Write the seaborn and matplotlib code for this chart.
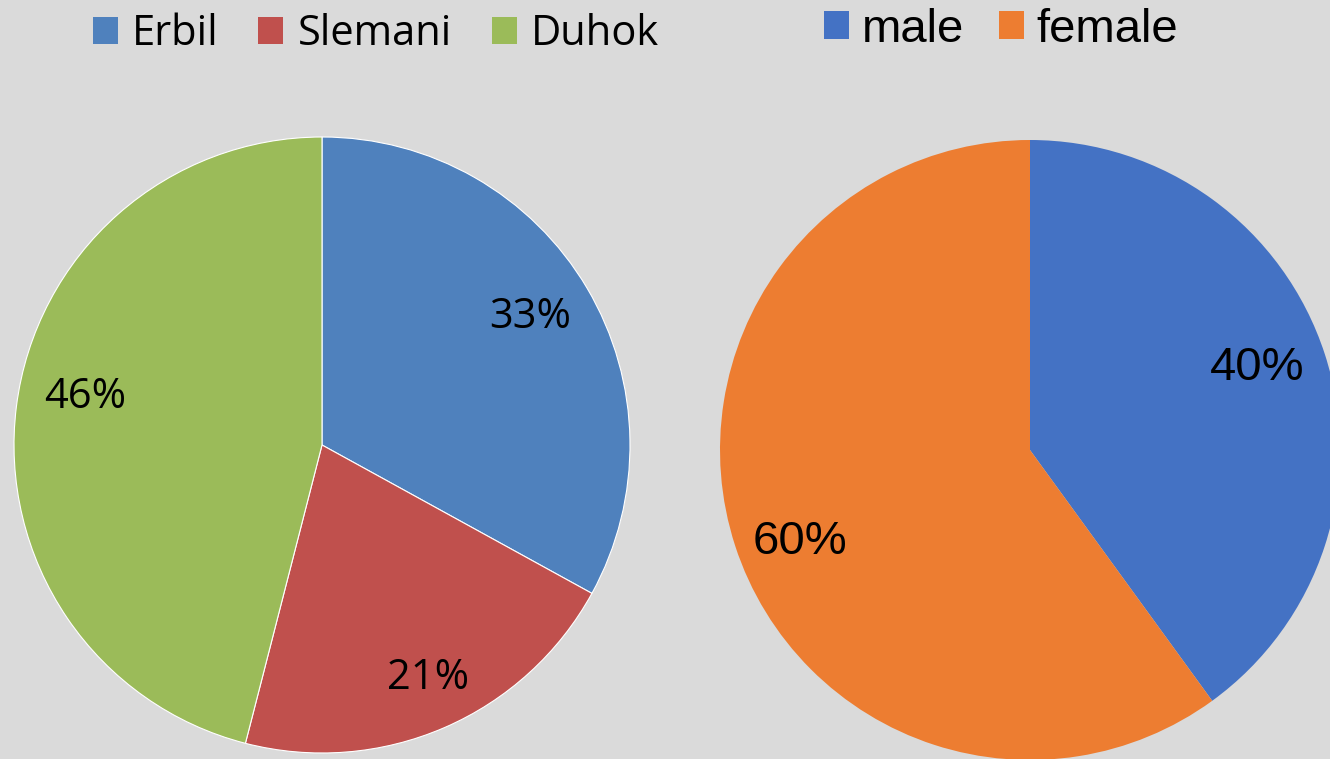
import matplotlib
matplotlib.use("Agg")
import matplotlib.pyplot as plt
import numpy as np
import seaborn as sns

# Survey respondents by governorate and by gender (percent)
regions = ["Erbil", "Slemani", "Duhok"]
region_share = [33, 21, 46]
genders = ["male", "female"]
gender_share = [40, 60]

region_colors = ["#4f81bd", "#c0504d", "#9bbb59"]
gender_colors = ["#4472c4", "#ed7d31"]

# label placement: fraction of radius and angular nudge (degrees)
region_label_r = [0.795, 0.83, 0.785]
region_label_nudge = [1.0, 1.0, -4.3]
gender_label_r = [0.78, 0.80]
gender_label_nudge = [1.8, 3.7]

sns.set_theme(style="white", rc={"figure.facecolor": "#dadada",
                                 "axes.facecolor": "#dadada",
                                 "text.color": "black"})

W, H = 1330, 759
fig = plt.figure(figsize=(W / 100, H / 100), dpi=100)
ax = fig.add_axes([0, 0, 1, 1])

left_font = {"family": "Open Sans", "size": 30, "color": "black"}
right_font = {"family": "Liberation Sans", "size": 34, "color": "black"}


def draw_pie(values, colors, center, radius, label_r, nudge, font, wprops):
    wedges = ax.pie(values, colors=colors, startangle=90, counterclock=False,
                    center=center, radius=radius, wedgeprops=wprops)[0]
    for wedge, val, fr, dn in zip(wedges, values, label_r, nudge):
        ang = np.deg2rad((wedge.theta1 + wedge.theta2) / 2 + dn)
        r = radius * fr
        ax.text(center[0] + r * np.cos(ang), center[1] + r * np.sin(ang),
                f"{val}%", ha="center", va="center", fontdict=font)
    return wedges


w1 = draw_pie(region_share, region_colors, (322, H - 445), 308,
              region_label_r, region_label_nudge, left_font,
              {"edgecolor": "white", "linewidth": 0.8})
w2 = draw_pie(gender_share, gender_colors, (1030, H - 450), 310,
              gender_label_r, gender_label_nudge, right_font,
              {"linewidth": 0})

ax.set_xlim(0, W)
ax.set_ylim(0, H)
ax.set_aspect("equal")
ax.axis("off")

leg1 = fig.legend(w1, regions, loc="center left",
                  bbox_to_anchor=(93 / W, 1 - 34 / H), ncol=3, frameon=False,
                  borderpad=0, borderaxespad=0,
                  handlelength=0.6, handleheight=0.6, handletextpad=0.34,
                  columnspacing=0.95, labelcolor="black",
                  prop={"family": "Open Sans", "size": 30})
leg2 = fig.legend(w2, genders, loc="center left",
                  bbox_to_anchor=(824 / W, 1 - 30 / H), ncol=2, frameon=False,
                  borderpad=0, borderaxespad=0,
                  handlelength=0.53, handleheight=0.53, handletextpad=0.28,
                  columnspacing=0.72, labelcolor="black",
                  prop={"family": "Liberation Sans", "size": 34})
for h in list(leg1.legend_handles) + list(leg2.legend_handles):
    h.set_edgecolor("none")

fig.savefig("out.png", dpi=100, facecolor="#dadada")
